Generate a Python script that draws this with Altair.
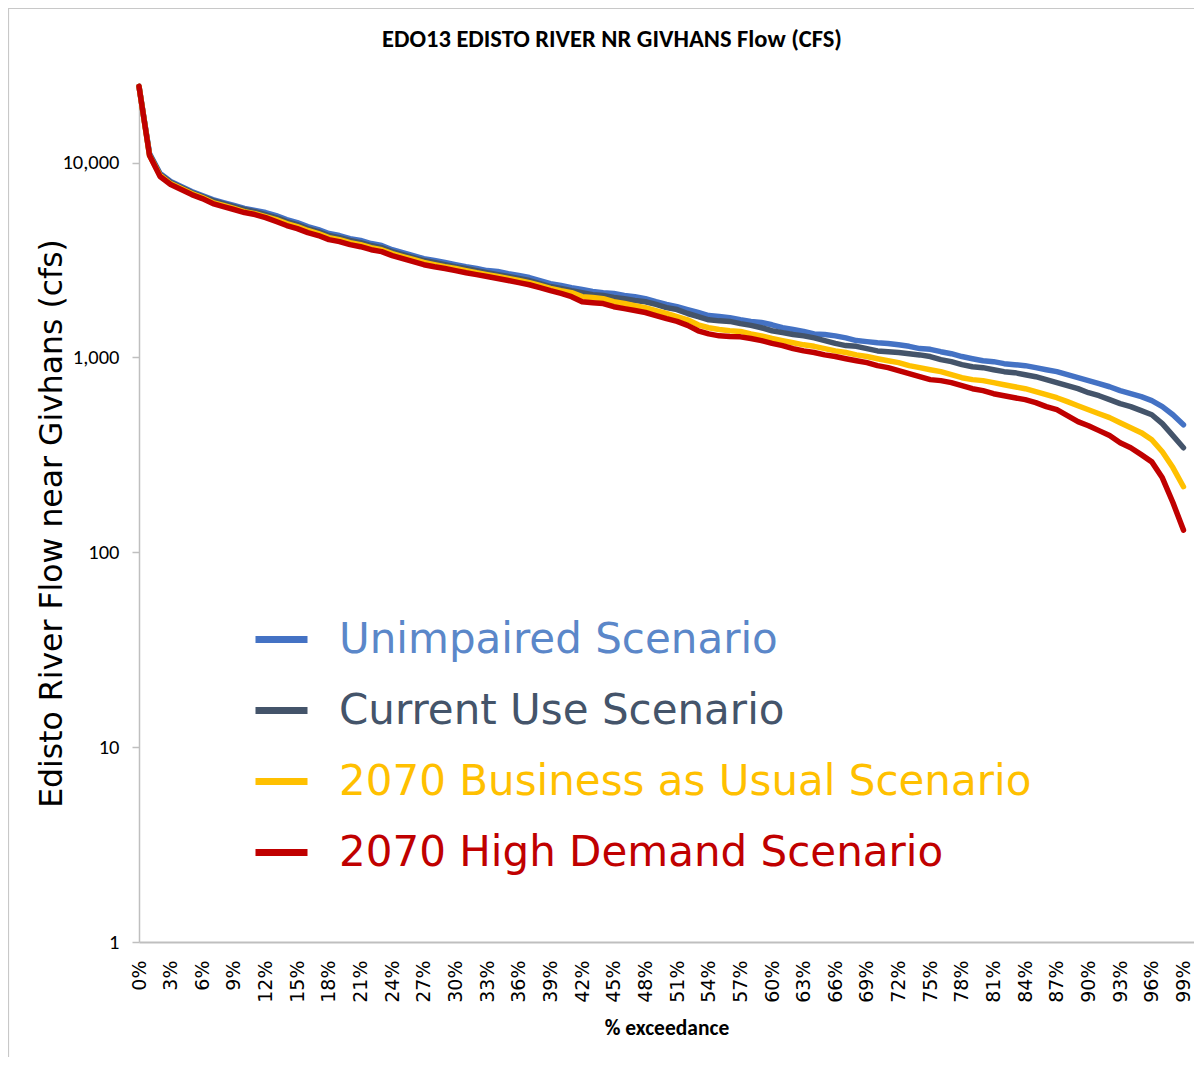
import altair as alt
import pandas as pd

# % exceedance (0..99)
exceedance = list(range(0, 100))

unimpaired = [24600, 11120, 8780, 7990, 7530, 7100, 6770, 6460, 6230, 6020,
              5810, 5670, 5540, 5340, 5100, 4920, 4690, 4530, 4320, 4220,
              4070, 3980, 3840, 3750, 3570, 3450, 3330, 3210, 3140, 3070,
              2990, 2920, 2860, 2790, 2760, 2690, 2630, 2570, 2480, 2390,
              2340, 2280, 2230, 2180, 2150, 2130, 2080, 2050, 2000, 1930,
              1870, 1820, 1760, 1700, 1640, 1620, 1600, 1560, 1530, 1510,
              1470, 1420, 1390, 1360, 1320, 1310, 1290, 1260, 1220, 1205,
              1190, 1180, 1160, 1140, 1110, 1100, 1070, 1045, 1010, 985,
              962, 951, 929, 918, 907, 886, 865, 845, 815, 787,
              760, 733, 707, 675, 651, 629, 600, 559, 508, 451]

current_use = [24600, 10990, 8680, 7900, 7440, 7020, 6690, 6380, 6160, 5940,
               5740, 5600, 5410, 5220, 4980, 4800, 4580, 4420, 4220, 4120,
               3980, 3880, 3750, 3660, 3490, 3370, 3250, 3140, 3070, 2990,
               2920, 2860, 2790, 2720, 2660, 2600, 2540, 2480, 2390, 2310,
               2260, 2200, 2150, 2100, 2080, 2030, 2000, 1960, 1930, 1870,
               1800, 1760, 1680, 1620, 1560, 1540, 1530, 1490, 1460, 1420,
               1370, 1340, 1310, 1290, 1260, 1220, 1180, 1150, 1140, 1110,
               1080, 1070, 1060, 1045, 1030, 1010, 974, 951, 918, 896,
               886, 865, 845, 835, 815, 796, 769, 742, 716, 691,
               659, 636, 607, 579, 559, 533, 508, 457, 397, 344]

bau_2070 = [24600, 10860, 8580, 7800, 7360, 6930, 6610, 6230, 6020, 5810,
            5600, 5470, 5280, 5100, 4860, 4690, 4480, 4320, 4120, 4020,
            3880, 3790, 3660, 3570, 3410, 3290, 3180, 3070, 2990, 2920,
            2860, 2790, 2720, 2660, 2600, 2540, 2480, 2420, 2340, 2260,
            2200, 2150, 2050, 2030, 2000, 1930, 1890, 1840, 1800, 1740,
            1680, 1620, 1560, 1470, 1420, 1390, 1370, 1360, 1320, 1290,
            1250, 1220, 1190, 1160, 1140, 1110, 1080, 1060, 1030, 1010,
            985, 962, 940, 907, 886, 865, 845, 815, 787, 769,
            760, 742, 724, 707, 691, 667, 644, 621, 593, 565,
            539, 514, 491, 462, 436, 411, 378, 328, 272, 217]

high_2070 = [24600, 10860, 8475, 7710, 7270, 6850, 6530, 6160, 5940, 5740,
             5540, 5410, 5220, 4980, 4750, 4580, 4370, 4220, 4020, 3930,
             3790, 3700, 3570, 3490, 3330, 3210, 3100, 2990, 2920, 2860,
             2790, 2720, 2660, 2600, 2540, 2480, 2420, 2360, 2280, 2200,
             2130, 2050, 1930, 1910, 1890, 1820, 1780, 1740, 1700, 1640,
             1580, 1530, 1460, 1370, 1320, 1290, 1280, 1275, 1250, 1220,
             1180, 1150, 1110, 1080, 1060, 1030, 1010, 985, 962, 940,
             907, 886, 855, 825, 796, 769, 760, 742, 716, 691,
             675, 651, 636, 621, 607, 586, 559, 539, 502, 468,
             446, 421, 397, 365, 344, 317, 291, 241, 180, 130]

series_names = ["Unimpaired Scenario", "Current Use Scenario",
                "2070 Business as Usual Scenario", "2070 High Demand Scenario"]
series_colors = ["#4472C4", "#44546A", "#FFC000", "#C00000"]
label_colors = ["#5B87C9", "#44546A", "#FFC000", "#C00000"]
x_tick_values = list(range(0, 100, 3))
y_tick_values = [1, 10, 100, 1000, 10000]
chart_title = "EDO13 EDISTO RIVER NR GIVHANS Flow (CFS)"

rows = []
for name, vals in zip(series_names, [unimpaired, current_use, bau_2070, high_2070]):
    for p, v in zip(exceedance, vals):
        rows.append({"pct": p, "flow": v, "series": name})
df = pd.DataFrame(rows)

calibri = "Carlito, 'Liberation Sans Narrow', 'Arial Narrow', 'DejaVu Sans Condensed', sans-serif"
gothic = "'DejaVu Sans', Verdana, sans-serif"

label_expr = " : ".join(
    f"datum.label == '{n}' ? '{c}'" for n, c in zip(series_names[:-1], label_colors[:-1])
) + f" : '{label_colors[-1]}'"

color = alt.Color(
    "series:N",
    scale=alt.Scale(domain=series_names, range=series_colors),
    legend=alt.Legend(
        title=None,
        orient="none",
        legendX=113,
        legendY=525,
        padding=0,
        symbolType="stroke",
        symbolSize=2704,
        symbolStrokeWidth=7,
        labelFont=gothic,
        labelFontSize=42,
        labelColor={"expr": label_expr},
        labelOffset=28,
        labelLimit=0,
        rowPadding=20,
        direction="vertical",
    ),
)

x = alt.X(
    "pct:Q",
    scale=alt.Scale(domain=[0, 100], nice=False, zero=False),
    axis=alt.Axis(
        title="% exceedance",
        titleFont=calibri,
        titleFontSize=21.5,
        titleFontWeight="bold",
        titleColor="#000000",
        titlePadding=15,
        values=x_tick_values,
        labelExpr="datum.value + '%'",
        labelAngle=270,
        labelFont=gothic,
        labelFontSize=19,
        labelColor="#000000",
        labelPadding=18,
        labelOverlap=False,
        ticks=False,
        grid=False,
        domainColor="#BFBFBF",
        domainWidth=2,
    ),
)

y = alt.Y(
    "flow:Q",
    scale=alt.Scale(type="log", domain=[1, 25000], nice=False),
    axis=alt.Axis(
        title="Edisto River Flow near Givhans (cfs)",
        titleFont=gothic,
        titleFontSize=31.5,
        titleFontWeight="normal",
        titleColor="#000000",
        titleX=-87,
        titleY=438,
        titleBaseline="middle",
        titleAngle=270,
        values=y_tick_values,
        format=",",
        labelFont=calibri,
        labelFontSize=20.5,
        labelColor="#000000",
        labelPadding=13,
        tickColor="#BFBFBF",
        tickSize=7,
        tickWidth=1.5,
        grid=False,
        domainColor="#BFBFBF",
        domainWidth=1.5,
    ),
)

base = alt.Chart(df).mark_line(strokeWidth=5.5, strokeCap="round", strokeJoin="round").encode(
    x=x, y=y, color=color
)
layers = [base.transform_filter(alt.datum.series == s) for s in series_names]

frame_df = pd.DataFrame({"k": [0]})
left_border = alt.Chart(frame_df).mark_rule(color="#C8C8C8", strokeWidth=1.2).encode(
    x=alt.value(-130.5), y=alt.value(-77), y2=alt.value(972)
)
top_border = alt.Chart(frame_df).mark_rule(color="#C8C8C8", strokeWidth=1.2).encode(
    x=alt.value(-131), x2=alt.value(1055), y=alt.value(-76.5)
)
title_df = pd.DataFrame({"t": [chart_title]})
title_mark = alt.Chart(title_df).mark_text(
    font=calibri, fontSize=24.5, fontWeight="bold", color="#000000",
    align="center", baseline="middle",
).encode(text="t:N", x=alt.value(473), y=alt.value(-45))

chart = alt.layer(*layers, left_border, top_border, title_mark).properties(
    width=1055,
    height=857,
    padding={"left": 131, "top": 77, "right": 0, "bottom": 115},
    autosize=alt.AutoSizeParams(type="none"),
).configure(
    background="#FFFFFF",
    view=alt.ViewConfig(stroke="transparent", strokeWidth=0),
)

chart.save("out.html", embed_options={"renderer": "svg", "actions": False})
